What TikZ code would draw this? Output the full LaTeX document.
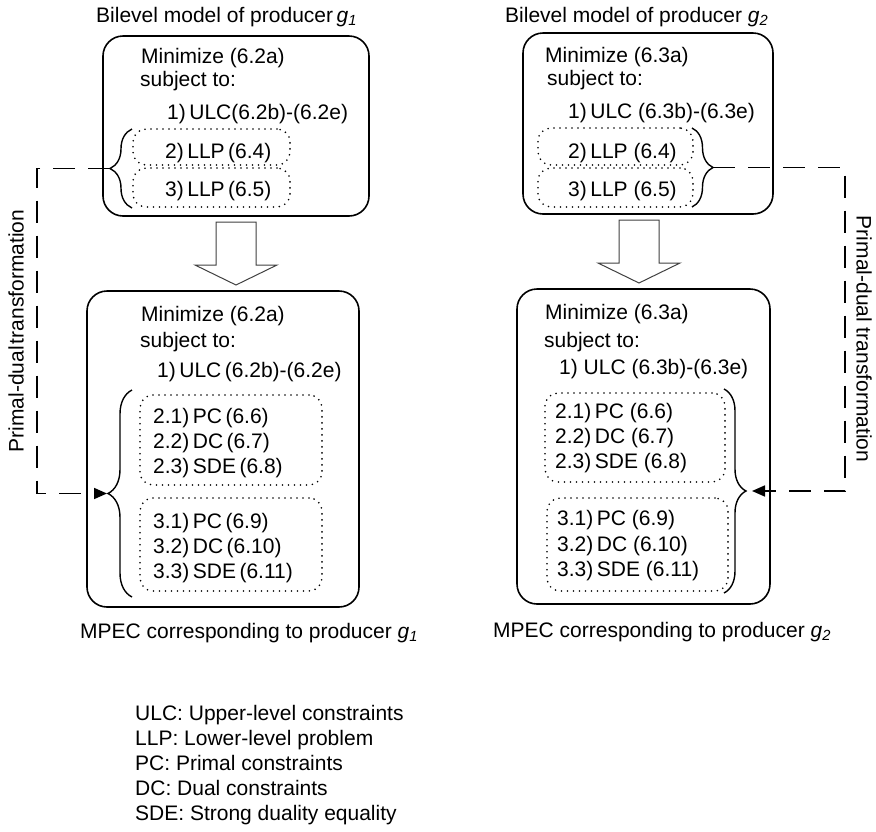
\documentclass[tikz,border=0pt]{standalone}
\usepackage{fontspec}
\setmainfont{Liberation Sans}
\usetikzlibrary{decorations.pathreplacing,arrows.meta}
\begin{document}
\begin{tikzpicture}[x=1pt,y=-1pt, font=\fontsize{21}{25}\selectfont,
 mainbox/.style={draw, line width=1.6pt, rounded corners=20pt, inner sep=0pt},
 dotbox/.style={draw, line width=1.8pt, dash pattern=on 0pt off 6pt, line cap=round, rounded corners=13pt, inner sep=0pt},
 txt/.style={anchor=base west, inner sep=0pt},
 bracestyle/.style={draw, line width=1.4pt, decorate, decoration={brace, amplitude=#1}},
 dashconn/.style={draw, line width=1.7pt, dash pattern=on 22pt off 13pt, -{Triangle[length=13pt,width=11pt]}},
 bigarrow/.style={draw=black!75, line width=1pt, fill=white, line join=miter},
 vlabel/.style={inner sep=0pt}]
\useasboundingbox (0,0) rectangle (876,831);

% titles
\node[txt] (title1) at (96,22) {Bilevel model of producer\,\textit{g}\textsubscript{\textit{1}}};
\node[txt] (title2) at (505,22) {Bilevel model of producer \textit{g}\textsubscript{\textit{2}}};

% main boxes
\node[mainbox, minimum width=266pt, minimum height=180pt] (b1) at (236,126) {};
\node[mainbox, minimum width=250pt, minimum height=181pt] (b2) at (648,123.5) {};
\node[mainbox, minimum width=272pt, minimum height=316pt] (b3) at (223,449) {};
\node[mainbox, minimum width=253pt, minimum height=315pt] (b4) at (643.5,446.5) {};

% dotted boxes
\node[dotbox, minimum width=157pt, minimum height=36pt] (l2) at (211.5,147) {};
\node[dotbox, minimum width=157pt, minimum height=39pt] (l3) at (211.5,187.5) {};
\node[dotbox, minimum width=155pt, minimum height=37pt] (r2) at (615.5,146.5) {};
\node[dotbox, minimum width=155pt, minimum height=39pt] (r3) at (615.5,187.5) {};
\node[dotbox, minimum width=182pt, minimum height=90pt] (la) at (231,440) {};
\node[dotbox, minimum width=182pt, minimum height=93pt] (lb) at (231,544.5) {};
\node[dotbox, minimum width=180pt, minimum height=89pt] (ra) at (635,437.5) {};
\node[dotbox, minimum width=181pt, minimum height=93pt] (rb) at (637.5,544.5) {};

% texts left top
\node[txt] (a1) at (141,63) {Minimize (6.2a)};
\node[txt] (a2) at (140,86) {subject to:};
\node[txt] (a3) at (167,119) {1)\,ULC(6.2b)-(6.2e)};
\node[txt] (a4) at (165,158) {2)\,LLP\,(6.4)};
\node[txt] (a5) at (165,196) {3)\,LLP\,(6.5)};
% texts right top
\node[txt] (c1) at (545,62) {Minimize (6.3a)};
\node[txt] (c2) at (547,85) {subject to:};
\node[txt] (c3) at (568,118) {1)\,ULC (6.3b)-(6.3e)};
\node[txt] (c4) at (568,158) {2)\,LLP (6.4)};
\node[txt] (c5) at (568,196) {3)\,LLP (6.5)};
% texts left lower
\node[txt] (d1) at (141,321) {Minimize (6.2a)};
\node[txt] (d2) at (140,347) {subject to:};
\node[txt] (d3) at (157,377) {1)\,ULC\,(6.2b)-(6.2e)};
\node[txt] (d4) at (153,423) {2.1)\,PC\,(6.6)};
\node[txt] (d5) at (153,448) {2.2)\,DC\,(6.7)};
\node[txt] (d6) at (153,473) {2.3)\,SDE\,(6.8)};
\node[txt] (d7) at (153,528) {3.1)\,PC\,(6.9)};
\node[txt] (d8) at (153,553) {3.2)\,DC\,(6.10)};
\node[txt] (d9) at (153,578) {3.3)\,SDE\,(6.11)};
% texts right lower
\node[txt] (e1) at (545,319) {Minimize (6.3a)};
\node[txt] (e2) at (544,347) {subject to:};
\node[txt] (e3) at (559,374) {1) ULC (6.3b)-(6.3e)};
\node[txt] (e4) at (555,418) {2.1)\,PC (6.6)};
\node[txt] (e5) at (555,443) {2.2)\,DC (6.7)};
\node[txt] (e6) at (555,468) {2.3)\,SDE (6.8)};
\node[txt] (e7) at (557,525) {3.1)\,PC (6.9)};
\node[txt] (e8) at (557,551) {3.2)\,DC (6.10)};
\node[txt] (e9) at (557,576) {3.3)\,SDE (6.11)};

% captions
\node[txt] (cap1) at (80,638) {MPEC corresponding to producer \textit{g}\textsubscript{\textit{1}}};
\node[txt] (cap2) at (493,637) {MPEC corresponding to producer \textit{g}\textsubscript{\textit{2}}};

% legend
\node[txt] (g1) at (135,720) {ULC: Upper-level constraints};
\node[txt] (g2) at (135,745) {LLP: Lower-level problem};
\node[txt] (g3) at (135,770) {PC: Primal constraints};
\node[txt] (g4) at (135,795) {DC: Dual constraints};
\node[txt] (g5) at (135,820) {SDE: Strong duality equality};

% braces
\draw[bracestyle=22] (132,208) -- (132,129);
\draw[bracestyle=24] (132,597) -- (132,390);
\draw[bracestyle=21] (692,128) -- (692,207);
\draw[bracestyle=22] (724,389) -- (724,593);

\coordinate (lt1) at (110,168.5);
\coordinate (lt2) at (107,493.5);
\coordinate (lcorner) at (37,493.5);
\coordinate (rt1) at (713,167.5);
\coordinate (rt2) at (752,491);
\coordinate (rcorner) at (845,491);

% dashed connectors
\draw[dashconn] (lt1) -| (lcorner) -- (lt2);
\draw[dashconn] (rt1) -| (rcorner) -- (rt2);

% vertical labels
\node[vlabel, rotate=90] (pl) at (16,331) {Primal-dual\hspace{2pt}transformation};
\node[vlabel, rotate=-90] (pr) at (864,339) {Primal-dual transformation};

% big white arrows
\draw[bigarrow] (216,222) -- (256,222) -- (256,265) -- (277,265) -- (236,285) -- (195,265) -- (216,265) -- cycle;
\draw[bigarrow] (619,220) -- (659,220) -- (659,263) -- (680,263) -- (639,283) -- (598,263) -- (619,263) -- cycle;
\end{tikzpicture}
\end{document}
